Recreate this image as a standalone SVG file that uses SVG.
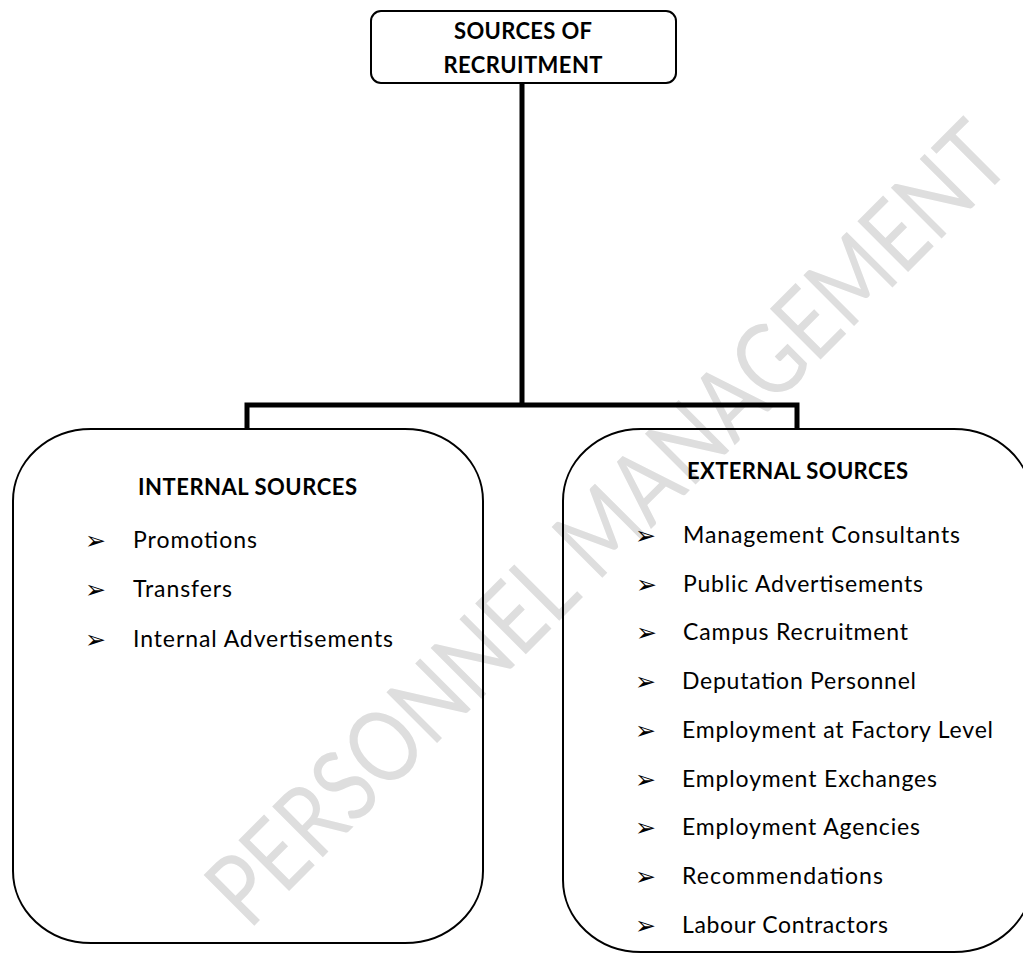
<svg xmlns="http://www.w3.org/2000/svg" width="1023" height="954" viewBox="0 0 1023 954">
  <style>
    .box { fill: none; stroke: #000; stroke-width: 2; }
    .conn { fill: none; stroke: #000; stroke-width: 5; stroke-linejoin: miter; }
    .head { font-family: Lato, "Liberation Sans", sans-serif; font-weight: bold; font-size: 22px; fill: #000; }
    .item { font-family: Lato, "Liberation Sans", sans-serif; font-size: 23px; fill: #000; }
    .bul { font-family: "DejaVu Sans", sans-serif; font-size: 25px; fill: #000; }
    .wm { font-family: Lato, "Liberation Sans", sans-serif; font-size: 100px; fill: #dedede; }
  </style>

  <g id="watermark">
    <text class="wm" x="0" y="0" transform="translate(249,931) rotate(-45)" textLength="1083" lengthAdjust="spacingAndGlyphs">PERSONNEL MANAGEMENT</text>
  </g>

  <g id="connectors">
    <path class="conn" d="M522,83 V405 M247,429 V405 H797 V429"/>
  </g>

  <g id="root">
    <rect class="box" x="371" y="11" width="305" height="72" rx="10" ry="10"/>
    <text class="head" x="523" y="39" text-anchor="middle" textLength="138">SOURCES OF</text>
    <text class="head" x="523" y="73" text-anchor="middle" textLength="159">RECRUITMENT</text>
  </g>

  <g id="internal">
    <rect class="box" x="13" y="429" width="470" height="514" rx="78" ry="72"/>
    <text class="head" x="138" y="495" textLength="219">INTERNAL SOURCES</text>
    <text class="bul" x="85" y="549">➢</text>
    <text class="item" x="133" y="548" textLength="124">Promotions</text>
    <text class="bul" x="85" y="598">➢</text>
    <text class="item" x="133" y="597" textLength="99">Transfers</text>
    <text class="bul" x="85" y="648">➢</text>
    <text class="item" x="133" y="647" textLength="260">Internal Advertisements</text>
  </g>

  <g id="external">
    <rect class="box" x="563" y="429" width="469" height="523" rx="78" ry="72"/>
    <text class="head" x="687" y="479" textLength="221">EXTERNAL SOURCES</text>
    <text class="bul" x="635" y="544">➢</text>
    <text class="item" x="683" y="543" textLength="277">Management Consultants</text>
    <text class="bul" x="636" y="593">➢</text>
    <text class="item" x="683" y="592" textLength="240">Public Advertisements</text>
    <text class="bul" x="636" y="641">➢</text>
    <text class="item" x="683" y="640" textLength="225">Campus Recruitment</text>
    <text class="bul" x="635" y="690">➢</text>
    <text class="item" x="682" y="689" textLength="234">Deputation Personnel</text>
    <text class="bul" x="635" y="739">➢</text>
    <text class="item" x="682" y="738" textLength="311">Employment at Factory Level</text>
    <text class="bul" x="635" y="788">➢</text>
    <text class="item" x="682" y="787" textLength="255">Employment Exchanges</text>
    <text class="bul" x="635" y="836">➢</text>
    <text class="item" x="682" y="835" textLength="238">Employment Agencies</text>
    <text class="bul" x="635" y="885">➢</text>
    <text class="item" x="682" y="884" textLength="201">Recommendations</text>
    <text class="bul" x="635" y="934">➢</text>
    <text class="item" x="682" y="933" textLength="206">Labour Contractors</text>
  </g>
</svg>
